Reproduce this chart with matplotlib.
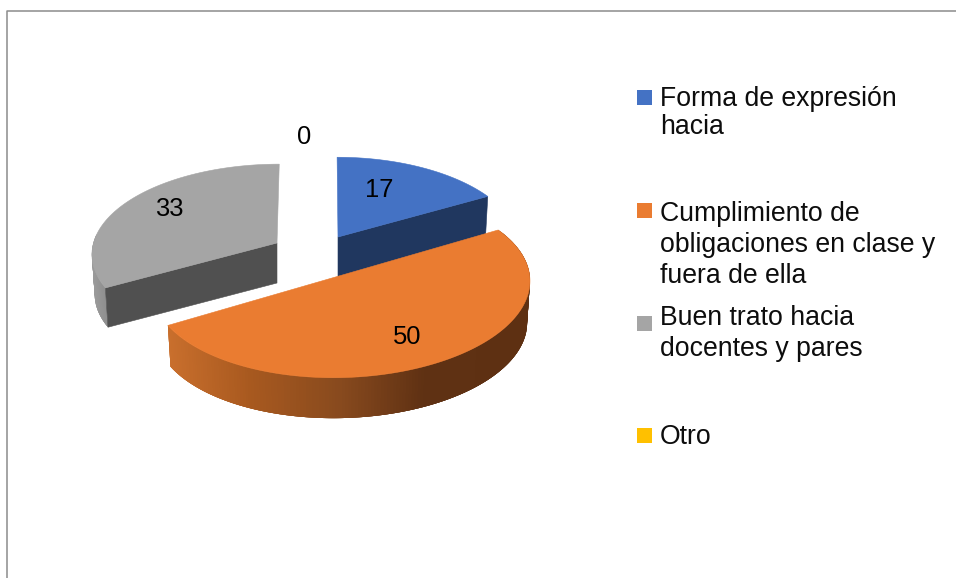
import matplotlib
matplotlib.use("Agg")
import matplotlib.pyplot as plt
import numpy as np
from matplotlib.colors import to_rgb
from matplotlib.patches import Polygon, Rectangle

plt.rcParams["font.family"] = ["Liberation Sans", "DejaVu Sans"]

# Chart data
categories = [
    "Forma de expresión\nhacia",
    "Cumplimiento de\nobligaciones en clase y\nfuera de ella",
    "Buen trato hacia\ndocentes y pares",
    "Otro",
]
values = [17, 50, 33, 0]

# Styles and layout (pixels)
colors = ["#4472C4", "#EA7C31", "#A5A5A5", "#FFC000"]
cut_colors = ["#20375F", "#843C0C", "#505050", "#7F6000"]
slice_geometry = [
    dict(cx=338, cy=237, rx=181, ry=89, k=0.116, lean=-1, shear=0, depth=40),
    dict(cx=341, cy=275.4, rx=188, ry=92, k=0.10, lean=0, shear=0.02, depth=42),
    dict(cx=277, cy=243, rx=183.5, ry=88, k=0.116, lean=2.5, shear=0, depth=40),
    dict(cx=305, cy=240, rx=180, ry=88, k=0.116, lean=0, shear=0, depth=40),
]
label_positions = [(379, 190), (407, 337), (169, 209), (304, 137)]
legend_square_tops = [90, 203, 316, 428]
legend_first_baselines = [106, 221, 325, 444]
legend_line_steps = [28.5, 30.8, 31.2, 0]
legend_text_x = 660
label_size = 18.4
legend_size = 19.2


def project(geo, theta, bottom=False):
    """Project disc angles (clockwise from 12 o'clock) to image pixels."""
    u, v = np.sin(theta), np.cos(theta)
    w = 1 + geo["k"] * v
    dx = (geo["rx"] * u + geo["lean"] * v) / w
    dy = -geo["ry"] * v / w - geo["shear"] * dx
    if bottom:
        return geo["cx"] + 0.985 * dx, geo["cy"] + 0.985 * dy + geo["depth"]
    return geo["cx"] + dx, geo["cy"] + dy


def apex(geo, bottom=False):
    return geo["cx"], geo["cy"] + (geo["depth"] if bottom else 0)


def mix_stops(x, stops):
    xs = [s[0] for s in stops]
    rgb = np.array([to_rgb(s[1]) for s in stops])
    return tuple(np.interp(x, xs, rgb[:, i]) for i in range(3))


def draw_side_wall(ax, geo, start, end, stops):
    """Outer rim of a slice as overlapping quads, shaded along x."""
    angles = np.linspace(start, end, 200)
    tx, ty = project(geo, angles)
    bx, by = project(geo, angles, bottom=True)
    n = len(angles)
    # each quad reaches a few steps past the next one, so no seams show
    for i in range(n - 1):
        j = min(i + 4, n - 1)
        quad = list(zip(tx[i:j + 1], ty[i:j + 1])) + list(zip(bx[i:j + 1], by[i:j + 1]))[::-1]
        col = mix_stops((tx[i] + tx[i + 1]) / 2, stops)
        ax.add_patch(Polygon(quad, closed=True, facecolor=col, edgecolor="none"))


def draw_cut_wall(ax, geo, theta, color):
    """Flat cut face of a slice at the given angle."""
    tx, ty = project(geo, theta)
    bx, by = project(geo, theta, bottom=True)
    quad = [apex(geo), (tx, ty), (bx, by), apex(geo, bottom=True)]
    ax.add_patch(Polygon(quad, closed=True, facecolor=color, edgecolor=color, linewidth=0.4))


def draw_top(ax, geo, start, end, color):
    angles = np.linspace(start, end, 200)
    x, y = project(geo, angles)
    pts = [apex(geo)] + list(zip(x, y))
    ax.add_patch(Polygon(pts, closed=True, facecolor=color, edgecolor=color, linewidth=0.4))


def main():
    fig = plt.figure(figsize=(9.56, 5.78), dpi=100)
    ax = fig.add_axes([0, 0, 1, 1])
    ax.set_xlim(0, 956)
    ax.set_ylim(578, 0)
    ax.axis("off")

    # Chart frame
    ax.plot([7.5, 7.5, 956], [578, 10.5, 10.5], color="#8C8C8C", linewidth=1.1)

    fractions = np.array(values, dtype=float) / sum(values)
    edges = np.concatenate([[0], np.cumsum(fractions)]) * 2 * np.pi

    # Back slices first, then the orange one in front
    rim_stops = {
        1: [(168, "#C96F2D"), (250, "#A8591F"), (340, "#884A1E"), (425, "#5F3113"), (530, "#5E3012")],
        2: [(90, "#9C9C9C"), (106, "#8E8E8E")],
    }
    for i in [2, 0, 1]:
        geo = slice_geometry[i]
        start, end = edges[i], edges[i + 1]
        if i == 1:
            draw_side_wall(ax, geo, start, end, rim_stops[1])
        elif i == 2:
            draw_side_wall(ax, geo, start, start + 0.6, rim_stops[2])
            draw_cut_wall(ax, geo, start, cut_colors[i])
        else:
            draw_cut_wall(ax, geo, end, cut_colors[i])
        draw_top(ax, geo, start, end, colors[i])

    # Data labels
    for val, (lx, ly) in zip(values, label_positions):
        ax.text(lx, ly, str(val), fontsize=label_size, color="black", ha="center", va="center")

    # Legend
    for name, col, top, base, step in zip(categories, colors, legend_square_tops,
                                          legend_first_baselines, legend_line_steps):
        ax.add_patch(Rectangle((637, top), 15, 15, facecolor=col, edgecolor="none"))
        for j, line in enumerate(name.split("\n")):
            ax.text(legend_text_x, base + j * step, line, fontsize=legend_size,
                    color="#0D0D0D", ha="left", va="baseline")

    fig.savefig("out.png", dpi=100, facecolor="white")


if __name__ == "__main__":
    main()
